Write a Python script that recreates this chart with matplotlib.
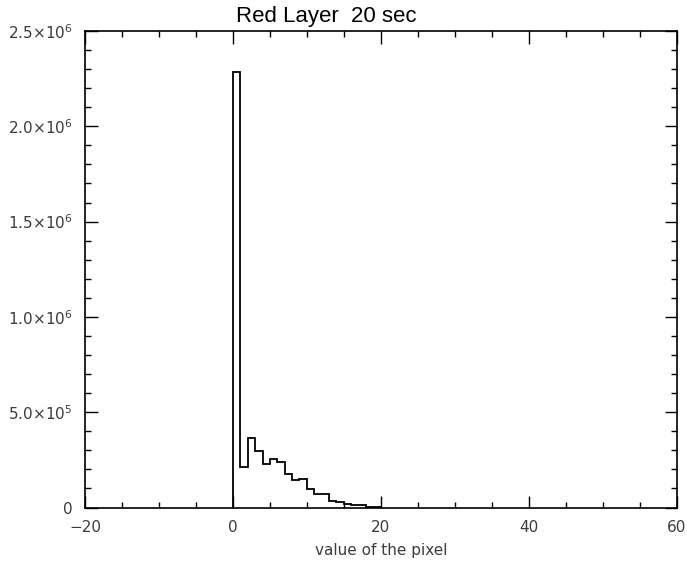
import matplotlib
matplotlib.use("Agg")
import matplotlib.pyplot as plt
from matplotlib.ticker import MultipleLocator, FixedLocator
import numpy as np

# Data: histogram of pixel values (bin edges 0..20, width 1)
bin_edges = list(range(0, 21))
counts = [2.286e6, 0.210e6, 0.365e6, 0.298e6, 0.230e6, 0.256e6, 0.237e6,
          0.175e6, 0.142e6, 0.149e6, 0.098e6, 0.072e6, 0.071e6, 0.036e6,
          0.027e6, 0.020e6, 0.015e6, 0.014e6, 0.005e6, 0.005e6]
x_ticks = [-20, 0, 20, 40, 60]
x_tick_labels = ["\u221220", "0", "20", "40", "60"]
y_ticks = [0, 0.5e6, 1.0e6, 1.5e6, 2.0e6, 2.5e6]
y_tick_labels = ["0", r"$5.0{\times}10^5$", r"$1.0{\times}10^6$",
                 r"$1.5{\times}10^6$", r"$2.0{\times}10^6$", r"$2.5{\times}10^6$"]
title_text = "Red Layer  20 sec"
x_label = "value of the pixel"

W, H = 687, 566
fig = plt.figure(figsize=(W / 100, H / 100), dpi=100)
fig.patch.set_facecolor("white")
left, right, top, bottom = 85, 676.7, 31, 507.5
ax = fig.add_axes([left / W, 1 - bottom / H, (right - left) / W, (bottom - top) / H])

ax.stairs(counts, bin_edges, baseline=0, fill=False, color="black", linewidth=1.3)

ax.set_xlim(-20, 60)
ax.set_ylim(0, 2.5e6)

ax.xaxis.set_major_locator(FixedLocator(x_ticks))
ax.set_xticklabels(x_tick_labels)
ax.xaxis.set_minor_locator(MultipleLocator(5))
ax.yaxis.set_major_locator(FixedLocator(y_ticks))
ax.set_yticklabels(y_tick_labels)
ax.yaxis.set_minor_locator(MultipleLocator(0.1e6))

tick_color = "#3c3c3c"
ax.tick_params(which="both", direction="in", top=True, right=True, color="black", width=1.0)
ax.tick_params(which="major", length=9, labelsize=11, labelcolor=tick_color)
ax.tick_params(which="minor", length=4.5)
ax.tick_params(axis="x", which="major", pad=9)
ax.tick_params(axis="y", which="major", pad=9)

for s in ax.spines.values():
    s.set_linewidth(1.2)
    s.set_color("black")

ax.set_xlabel(x_label, fontsize=11, color=tick_color, labelpad=6)

fig.text(326 / W, 1 - 22 / H, title_text, fontsize=16, family="Liberation Sans",
         ha="center", va="baseline", color="black")

fig.savefig("out.png", dpi=100, facecolor="white")
